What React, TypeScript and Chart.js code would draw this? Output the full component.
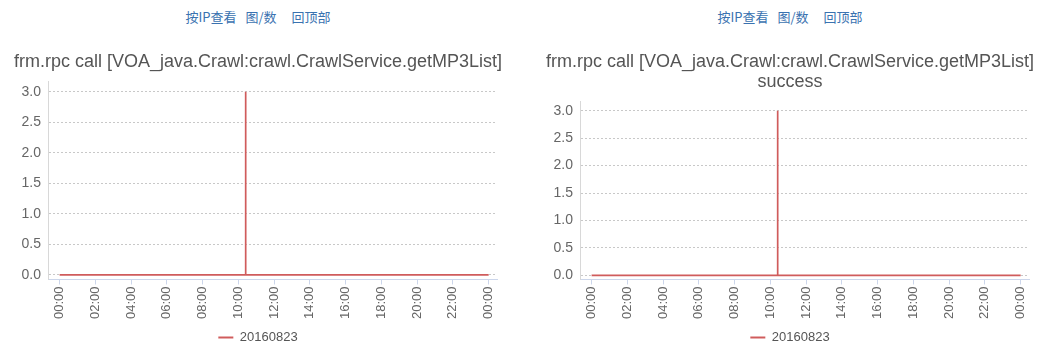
import React, { useEffect, useRef } from "react";
import { Chart, registerables } from "chart.js";

Chart.register(...registerables);

// ---- data ----
const MINUTES = [0, 623, 624, 625, 1440];
const CALL_VALUES = [0, 0, 3, 0, 0];
const SUCCESS_VALUES = [0, 0, 3, 0, 0];
const SERIES_NAME = "20160823";
const X_TICKS = [0, 120, 240, 360, 480, 600, 720, 840, 960, 1080, 1200, 1320, 1440];
const X_TICK_LABELS = [
  "00:00", "02:00", "04:00", "06:00", "08:00", "10:00", "12:00",
  "14:00", "16:00", "18:00", "20:00", "22:00", "00:00",
];
const Y_TICKS = [0, 0.5, 1, 1.5, 2, 2.5, 3];
const TITLE_MAIN = "frm.rpc call [VOA_java.Crawl:crawl.CrawlService.getMP3List]";
const TITLE_SUB = "success";
const LINK_TEXTS = ["按IP查看", "图/数", "回顶部"];

const FONT = "'Liberation Sans', Arial, Helvetica, sans-serif";
const LINE_COLOR = "#d05c5c";
const CANVAS_W = 516;
const CANVAS_H = 330;

function LineChart({ titleLines, values }: { titleLines: string[]; values: number[] }) {
  const ref = useRef<HTMLCanvasElement | null>(null);
  useEffect(() => {
    if (!ref.current) return;
    const chart = new Chart(ref.current, {
      type: "line",
      data: {
        datasets: [
          {
            label: SERIES_NAME,
            data: MINUTES.map((m, i) => ({ x: m, y: values[i] })),
            borderColor: LINE_COLOR,
            backgroundColor: LINE_COLOR,
            borderWidth: 1.7,
            pointRadius: 0,
            tension: 0,
            fill: false,
          },
        ],
      },
      options: {
        animation: false,
        responsive: false,
        maintainAspectRatio: false,
        layout: { padding: { left: 0, right: 0, top: 0, bottom: 10 } },
        plugins: {
          title: {
            display: true,
            text: titleLines,
            color: "#555",
            font: { family: FONT, size: 18, weight: "normal", lineHeight: 1.111 },
            padding: { top: 18, bottom: 10 },
          },
          legend: {
            display: true,
            position: "bottom",
            labels: {
              boxWidth: 15,
              boxHeight: 2,
              color: "#555",
              font: { family: FONT, size: 13 },
              padding: 10,
              generateLabels: (c: any) =>
                c.data.datasets.map((d: any, i: number) => ({
                  text: d.label,
                  fillStyle: LINE_COLOR,
                  strokeStyle: LINE_COLOR,
                  lineWidth: 0,
                  datasetIndex: i,
                  fontColor: "#555",
                })),
            },
          },
          tooltip: { enabled: false },
        },
        scales: {
          x: {
            type: "linear",
            min: -39,
            max: 1468,
            afterBuildTicks: (s: any) => {
              s.ticks = X_TICKS.map((v) => ({ value: v }));
            },
            ticks: {
              autoSkip: false,
              minRotation: 90,
              maxRotation: 90,
              color: "#666",
              font: { family: FONT, size: 13 },
              padding: 2,
              callback: (_v: any, i: number) => X_TICK_LABELS[i],
            },
            grid: {
              display: true,
              drawOnChartArea: false,
              drawTicks: true,
              tickLength: 5,
              color: "#ccd6eb",
            },
            border: { display: true, color: "#ccd6eb", width: 1 },
          },
          y: {
            min: -0.075,
            max: 3.16,
            afterBuildTicks: (s: any) => {
              s.ticks = Y_TICKS.map((v) => ({ value: v }));
            },
            afterFit: (s: any) => {
              s.width = 48;
            },
            ticks: {
              color: "#666",
              font: { family: FONT, size: 14 },
              padding: 7,
              callback: (v: any) => Number(v).toFixed(1),
            },
            grid: { color: "#c8c8c8", drawTicks: false, lineWidth: 1 },
            border: { display: true, color: "#d8d8d8", width: 1, dash: [2, 2] },
          },
          yRight: {
            position: "right",
            display: true,
            afterFit: (s: any) => {
              s.width = 19;
            },
            ticks: { display: false },
            grid: { display: false },
            border: { display: false },
          },
        },
      } as any,
    });
    return () => chart.destroy();
  }, [titleLines, values]);
  return (
    <canvas
      ref={ref}
      width={CANVAS_W}
      height={CANVAS_H}
      style={{ width: CANVAS_W, height: CANVAS_H, display: "block" }}
    />
  );
}

function Links() {
  return (
    <div
      style={{
        height: 34,
        lineHeight: "34px",
        textAlign: "center",
        fontFamily: "'Noto Sans CJK SC', sans-serif",
        fontSize: 13,
        color: "#3a72b0",
        whiteSpace: "nowrap",
      }}
    >
      <span>{LINK_TEXTS[0]}</span>
      <span style={{ marginLeft: 9 }}>{LINK_TEXTS[1]}</span>
      <span style={{ marginLeft: 15 }}>{LINK_TEXTS[2]}</span>
    </div>
  );
}

const MAIN_TITLE = [TITLE_MAIN];
const SUB_TITLE = [TITLE_MAIN, TITLE_SUB];

export default function App() {
  return (
    <div style={{ position: "absolute", left: 0, top: 0, width: 1052, height: 364, background: "#fff" }}>
      <div style={{ position: "absolute", left: 0, top: 0, width: CANVAS_W }}>
        <Links />
        <LineChart titleLines={MAIN_TITLE} values={CALL_VALUES} />
      </div>
      <div style={{ position: "absolute", left: 532, top: 0, width: CANVAS_W }}>
        <Links />
        <LineChart titleLines={SUB_TITLE} values={SUCCESS_VALUES} />
      </div>
    </div>
  );
}
